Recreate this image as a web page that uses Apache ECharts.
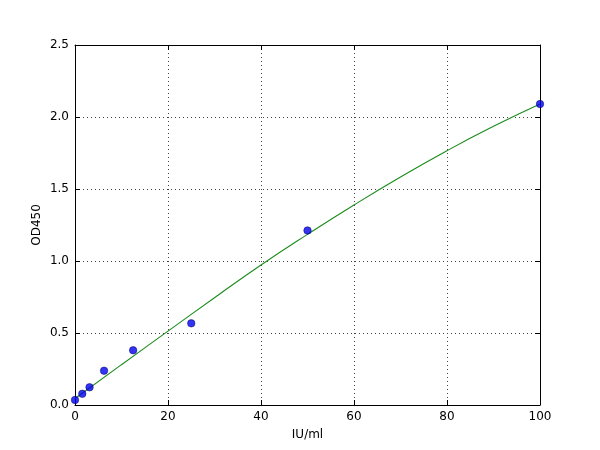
<!DOCTYPE html>
<html>
<head>
<meta charset="utf-8">
<script src="https://cdn.jsdelivr.net/npm/echarts@6/dist/echarts.min.js"></script>
<style>
html,body{margin:0;padding:0;background:#fff;}
#c{width:600px;height:450px;}
</style>
</head>
<body>
<div id="c"></div>
<script>
var pointX = [0, 1.5625, 3.125, 6.25, 12.5, 25, 50, 100];
var pointY = [0.035, 0.078, 0.123, 0.238, 0.38, 0.567, 1.212, 2.09];
var curveX = [0, 10, 20, 30, 40, 50, 60, 70, 80, 90, 100];
var curveY = [0.045, 0.28, 0.513, 0.745, 0.972, 1.185, 1.389, 1.583, 1.766, 1.935, 2.09];
var xTicks = [0, 20, 40, 60, 80, 100];
var yTicks = [0, 0.5, 1.0, 1.5, 2.0, 2.5];

var font = 'DejaVu Sans';
var chart = echarts.init(document.getElementById('c'));
var points = pointX.map(function (x, i) { return [x, pointY[i]]; });
var curve = curveX.map(function (x, i) { return [x, curveY[i]]; });

var lineStyleAxis = { color: '#000', width: 1 };
var splitStyle = { show: true, lineStyle: { color: '#444', type: [1, 3], width: 1 } };

chart.setOption({
  animation: false,
  backgroundColor: '#fff',
  grid: { left: 75, top: 45, right: 60, bottom: 45, containLabel: false },
  xAxis: [{
    type: 'value', min: xTicks[0], max: xTicks[xTicks.length - 1], interval: 20,
    name: 'IU/ml', nameLocation: 'middle', nameGap: 24,
    nameTextStyle: { fontFamily: font, fontSize: 12, color: '#000' },
    axisLine: { show: true, onZero: false, lineStyle: lineStyleAxis },
    axisTick: { show: true, inside: true, length: 5, lineStyle: lineStyleAxis },
    axisLabel: { fontFamily: font, fontSize: 12, color: '#000', margin: 6 },
    splitLine: splitStyle
  }, {
    type: 'value', position: 'top', min: 0, max: 100, interval: 20,
    axisLine: { show: true, onZero: false, lineStyle: lineStyleAxis },
    axisTick: { show: true, inside: true, length: 5, lineStyle: lineStyleAxis },
    axisLabel: { show: false }, splitLine: { show: false }
  }],
  yAxis: [{
    type: 'value', min: yTicks[0], max: yTicks[yTicks.length - 1], interval: 0.5,
    name: 'OD450', nameLocation: 'middle', nameGap: 32, nameRotate: 90,
    nameMoveOverlap: false,
    nameTextStyle: { fontFamily: font, fontSize: 12, color: '#000' },
    axisLine: { show: true, onZero: false, lineStyle: lineStyleAxis },
    axisTick: { show: true, inside: true, length: 5, lineStyle: lineStyleAxis },
    axisLabel: { fontFamily: font, fontSize: 12, color: '#000', margin: 6,
      formatter: function (v) { return v.toFixed(1); } },
    splitLine: splitStyle
  }, {
    type: 'value', position: 'right', min: 0, max: 2.5, interval: 0.5,
    axisLine: { show: true, onZero: false, lineStyle: lineStyleAxis },
    axisTick: { show: true, inside: true, length: 5, lineStyle: lineStyleAxis },
    axisLabel: { show: false }, splitLine: { show: false }
  }],
  series: [{
    type: 'line', data: curve, smooth: true, showSymbol: false, clip: true,
    lineStyle: { color: '#1a8c1a', width: 1.1 }, z: 2
  }, {
    type: 'scatter', data: points, symbolSize: 7.5, clip: true,
    itemStyle: { color: '#0000ee', borderColor: '#000066', borderWidth: 0.6 }, z: 3
  }]
});
</script>
</body>
</html>
